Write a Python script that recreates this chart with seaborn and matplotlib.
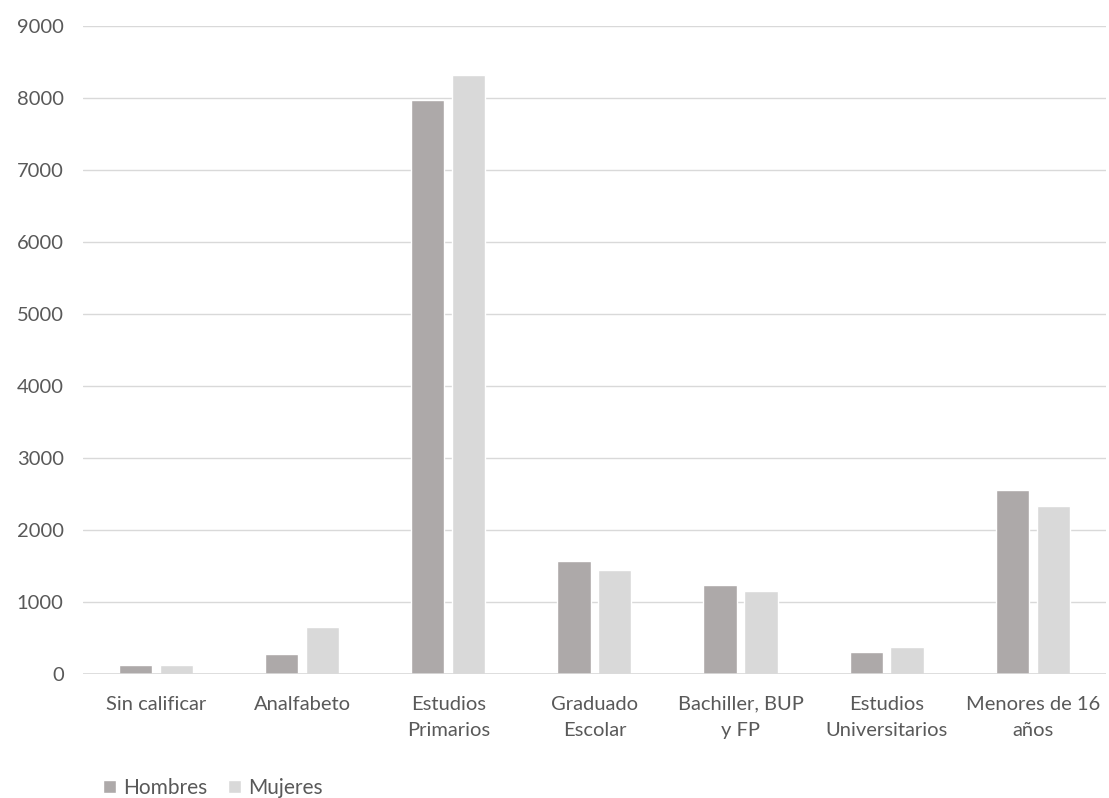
import matplotlib
matplotlib.use("Agg")
import matplotlib.pyplot as plt
import seaborn as sns
import pandas as pd

categories = ["Sin calificar", "Analfabeto", "Estudios\nPrimarios", "Graduado\nEscolar",
              "Bachiller, BUP\ny FP", "Estudios\nUniversitarios", "Menores de 16\naños"]
hombres = [115, 265, 7965, 1565, 1230, 300, 2555]
mujeres = [115, 645, 8310, 1440, 1145, 365, 2320]
series = ["Hombres", "Mujeres"]
yticks = [0, 1000, 2000, 3000, 4000, 5000, 6000, 7000, 8000, 9000]

df = pd.DataFrame({
    "cat": categories * 2,
    "val": hombres + mujeres,
    "sexo": [series[0]] * len(categories) + [series[1]] * len(categories),
})

sns.set_theme(style="white")
plt.rcParams["font.family"] = ["Lato", "DejaVu Sans"]
txt = "#595959"
fs = 14.5

fig = plt.figure(figsize=(11.09, 7.98), dpi=100)
ax = fig.add_axes([0.075, 0.156, 0.922, 0.812])
sns.barplot(data=df, x="cat", y="val", hue="sexo", hue_order=series,
            palette=["#ADA9A9", "#D9D9D9"], width=0.56, gap=0.19,
            saturation=1, ax=ax, legend=True, zorder=3)

ax.set_ylim(0, 9000)
ax.set_yticks(yticks)
ax.set_xlim(-0.5, len(categories) - 0.5)
ax.grid(axis="y", color="#D9D9D9", linewidth=1, zorder=0)
for s in ax.spines.values():
    s.set_visible(False)
ax.axhline(0, color="#D9D9D9", linewidth=1.2, zorder=4)
ax.set_xlabel("")
ax.set_ylabel("")
ax.tick_params(axis="both", length=0, colors=txt, labelsize=fs)
ax.tick_params(axis="y", pad=14)
ax.tick_params(axis="x", pad=16)
for lbl in ax.get_xticklabels():
    lbl.set_linespacing(1.68)

handles, labels = ax.get_legend_handles_labels()
ax.get_legend().remove()
fig.legend(handles, labels, loc="center left", bbox_to_anchor=(0.093, 0.0125), ncol=2,
           frameon=False, fontsize=15, handlelength=0.6, handleheight=0.6,
           handletextpad=0.35, columnspacing=1.0, labelcolor=txt, borderaxespad=0,
           borderpad=0)

fig.savefig("out.png", dpi=100, facecolor="white")
